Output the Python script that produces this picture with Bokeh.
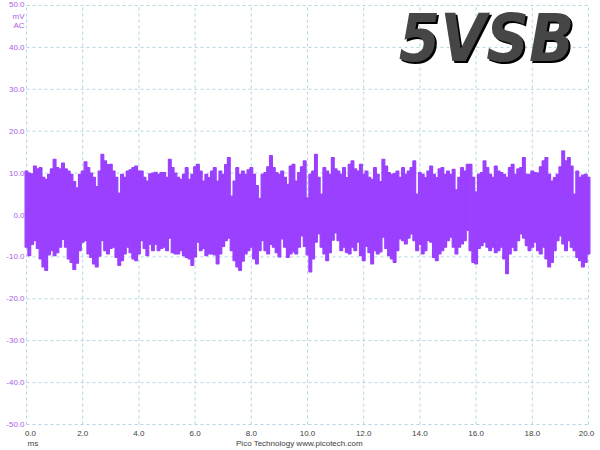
import numpy as np
from bokeh.plotting import figure
from bokeh.models import Range1d, Label
from bokeh.core.properties import value
from bokeh.embed import file_html
from bokeh.resources import INLINE

# ---- data ----
sample_step_ms = 0.1
upper_peaks_mv = [
    10.5, 10.0, 9.8, 11.7, 11.0, 11.3, 9.0, 8.5, 9.7, 11.0,
    13.3, 11.3, 11.0, 12.4, 11.0, 10.5, 9.7, 8.0, 6.5, 9.7,
    10.5, 12.7, 11.3, 10.0, 9.0, 6.8, 10.5, 14.5, 12.9, 12.0,
    12.1, 10.5, 9.0, 5.2, 9.7, 9.0, 10.5, 10.8, 11.3, 11.7,
    10.5,
    10.5, 9.0, 8.1, 9.8, 10.0, 10.2, 9.7, 10.1, 10.1, 9.0,
    13.3, 11.3, 10.0, 9.0, 8.5, 9.7, 11.3, 8.5, 9.7, 11.5,
    12.1, 10.5, 8.1, 9.7, 8.9, 10.5, 11.3, 8.1, 10.5, 9.7,
    12.0, 13.7, 4.5, 8.1, 11.3, 9.7, 10.5, 9.7, 10.8, 11.3,
    9.7, 7.0, 4.0, 9.7, 10.1, 11.5, 14.2, 11.3, 10.1, 9.7,
    10.5, 9.0, 7.3, 11.7, 12.1, 8.1, 10.1, 11.5, 12.9, 4.1,
    9.7, 10.5, 14.5, 9.0, 5.0, 11.3, 10.5, 9.7, 13.7, 11.0,
    10.5, 9.7, 11.3, 8.9, 12.1, 12.9, 11.0, 10.5, 12.1, 9.7,
    10.5, 9.0, 8.5, 11.3, 9.7, 8.0, 13.3, 11.7, 10.1, 9.7,
    9.9, 10.5, 9.0, 11.3, 9.7, 10.5, 11.3, 12.9, 5.0, 10.1,
    9.7, 8.9, 10.5, 11.7, 9.7, 8.9, 11.0, 11.3, 9.7, 10.5,
    9.7, 10.9, 6.0, 9.0, 11.3, 10.5, 12.1, 12.1, 9.0, 5.5,
    9.7, 10.1, 12.9, 11.3, 9.7, 9.0, 11.7, 10.5, 10.1, 9.7,
    9.0, 11.3, 12.1, 9.7, 11.0, 11.3, 13.7, 9.7, 9.7, 10.5,
    10.1, 10.0, 11.5, 12.9, 13.7, 9.7, 8.1, 8.9, 9.7, 11.5,
    15.3, 12.9, 13.7, 11.7, 5.0, 10.5, 9.0, 9.5, 9.7, 9.0,
]
lower_peaks_mv = [
    -7.7, -9.7, -7.0, -6.1, -8.0, -10.5, -12.4, -13.2, -9.5, -8.5,
    -9.7, -9.0, -7.7, -5.8, -7.7, -10.5, -11.3, -13.0, -11.5, -8.5,
    -6.5, -6.1, -9.3, -10.1, -11.7, -12.4, -9.8, -6.1, -8.5, -9.3,
    -8.0, -7.7, -10.1, -12.0, -10.9, -9.3, -7.7, -9.0, -10.5, -10.9,
    -9.3,
    -6.1, -8.0, -9.7, -7.0, -8.5, -7.0, -8.5, -8.0, -7.7, -8.5,
    -5.5, -9.0, -9.3, -9.3, -8.5, -9.7, -10.1, -10.5, -12.0, -10.0,
    -6.5, -8.5, -8.0, -9.7, -9.3, -9.3, -9.5, -11.7, -9.3, -7.5,
    -6.1, -5.5, -8.5, -10.9, -12.4, -13.2, -11.0, -9.3, -8.5, -7.7,
    -10.5, -11.7, -8.5, -6.1, -8.5, -9.3, -7.0, -7.7, -9.0, -10.0,
    -5.7, -7.7, -10.1, -9.3, -8.8, -9.3, -7.7, -5.0, -7.5, -9.5,
    -13.6, -10.5, -6.5, -4.5, -7.7, -9.3, -10.9, -9.0, -6.0, -4.3,
    -6.1, -8.5, -7.7, -8.9, -9.3, -7.7, -8.5, -6.5, -9.7, -10.9,
    -7.5, -9.0, -11.7, -8.5, -9.3, -8.8, -5.3, -8.0, -9.7, -10.5,
    -11.3, -8.5, -5.7, -6.1, -6.9, -5.5, -4.5, -6.1, -8.5, -7.0,
    -9.3, -8.5, -6.1, -6.5, -10.1, -10.9, -9.3, -8.5, -7.7, -6.1,
    -5.3, -7.7, -9.3, -7.7, -6.9, -6.1, -3.7, -8.5, -11.3, -11.7,
    -8.0, -7.3, -6.5, -7.7, -8.5, -7.7, -9.0, -8.5, -7.7, -10.5,
    -14.0, -9.3, -7.7, -8.5, -6.1, -4.5, -5.5, -7.3, -8.5, -7.7,
    -6.5, -8.5, -9.3, -7.7, -10.5, -12.4, -11.3, -8.5, -6.1, -5.0,
    -6.9, -8.5, -6.1, -7.7, -8.5, -10.1, -10.9, -12.4, -11.3, -9.3,
]
x_ticks = [0, 2, 4, 6, 8, 10, 12, 14, 16, 18, 20]
x_tick_labels = ["0.0", "2.0", "4.0", "6.0", "8.0", "10.0", "12.0", "14.0", "16.0", "18.0", "20.0"]
y_ticks = [40, 30, 20, 10, 0, -10, -20, -30, -40, -50]
y_tick_labels = ["40.0", "30.0", "20.0", "10.0", "0.0", "-10.0", "-20.0", "-30.0", "-40.0", "-50.0"]
y_top_tick = 50
y_top_label = "50.0"
y_unit_lines = ["mV", "AC"]
x_unit = "ms"
title_text = "5VSB"
credit_text = "Pico Technology  www.picotech.com"

x_min, x_max = 0, 20
y_min, y_max = -50, 50

TRACE = "#9b40ff"
GRID = "#b2d6e0"
LABEL_Y = "#a860e8"
TEXT = "#404040"
FONT = "Liberation Sans"
FS = "8px"

# screen layout: plot area inside a 600x450 canvas
W, H = 600, 450
left_px, right_px = 26, 588     # x of 0 ms and 20 ms
top_px, bottom_px = 5, 424      # y of +50 mV and -50 mV
px_per_ms = (right_px - left_px) / (x_max - x_min)
px_per_mv = (bottom_px - top_px) / (y_max - y_min)
xr = Range1d(x_min - left_px / px_per_ms, x_max + (W - right_px) / px_per_ms)
y_top = y_max + top_px / px_per_mv
yr = Range1d(y_top - H / px_per_mv, y_top)

p = figure(width=W, height=H, output_backend="svg", toolbar_location=None,
           x_range=xr, y_range=yr, x_axis_location=None, y_axis_location=None,
           title=None, min_border=0)
p.outline_line_color = None
p.background_fill_color = "white"
p.border_fill_color = "white"
p.xgrid.visible = False
p.ygrid.visible = False

# grid (dashed, spanning the plot area only)
all_y = [y_top_tick] + y_ticks
p.segment(x0=x_ticks, y0=[y_min] * len(x_ticks), x1=x_ticks, y1=[y_max] * len(x_ticks),
          line_color=GRID, line_dash="3 3", line_width=1)
p.segment(x0=[x_min] * len(all_y), y0=all_y, x1=[x_max] * len(all_y), y1=all_y,
          line_color=GRID, line_dash="3 3", line_width=1)

# trace: each sample column spans from its lower to its upper peak
n = len(upper_peaks_mv)
t = np.arange(n) * sample_step_ms
p.vbar(x=t, width=sample_step_ms, bottom=lower_peaks_mv, top=upper_peaks_mv,
       fill_color=TRACE, line_color=TRACE, line_width=1.2)

# y tick labels
p.text(x=[x_min] * len(y_ticks), y=y_ticks, text=y_tick_labels, x_offset=-2,
       text_align="right", text_baseline="middle",
       text_font=value(FONT), text_font_size=FS, text_color=LABEL_Y)
p.text(x=[x_min], y=[y_top_tick], text=[y_top_label], x_offset=-2, y_offset=-1,
       text_align="right", text_baseline="middle",
       text_font=value(FONT), text_font_size=FS, text_color=LABEL_Y)
p.text(x=[x_min] * len(y_unit_lines), y=[y_top_tick] * len(y_unit_lines), text=y_unit_lines,
       x_offset=-2, y_offset=[11 + 9 * k for k in range(len(y_unit_lines))],
       text_align="right", text_baseline="middle",
       text_font=value(FONT), text_font_size=FS, text_color=LABEL_Y)

# x tick labels
x_label_shift = [4] + [0] * (len(x_ticks) - 2) + [-2]
p.text(x=x_ticks, y=[y_min] * len(x_ticks), text=x_tick_labels,
       x_offset=x_label_shift, y_offset=9,
       text_align="center", text_baseline="middle",
       text_font=value(FONT), text_font_size=FS, text_color=TEXT)
p.text(x=[x_min], y=[y_min], text=[x_unit], x_offset=1, y_offset=19,
       text_align="left", text_baseline="middle",
       text_font=value(FONT), text_font_size=FS, text_color=TEXT)
p.text(x=[(300 - left_px) / px_per_ms], y=[y_min], text=[credit_text], y_offset=19,
       text_align="center", text_baseline="middle",
       text_font=value(FONT), text_font_size=FS, text_color=TEXT)

# big title with shadow
big_font = "'DejaVu Sans Condensed', 'Liberation Sans Narrow', 'Liberation Sans', sans-serif"
tx = (486 - left_px) / px_per_ms
ty = y_top - 38.3 / px_per_mv
p.add_layout(Label(x=tx, y=ty, x_offset=2, y_offset=-2, text=title_text,
                   text_align="center", text_baseline="middle", text_font=big_font,
                   text_font_style="bold italic", text_font_size="66px", text_color="#000000"))
p.add_layout(Label(x=tx, y=ty, text=title_text,
                   text_align="center", text_baseline="middle", text_font=big_font,
                   text_font_style="bold italic", text_font_size="66px", text_color="#464646"))

open("out.html", "w").write(file_html(p, INLINE))
